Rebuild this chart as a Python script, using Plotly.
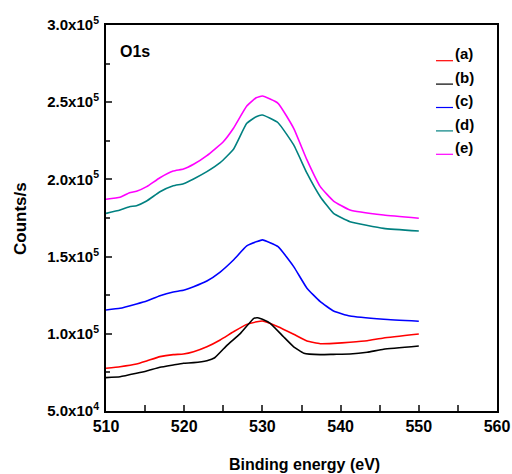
import plotly.graph_objects as go

x_e = [510, 511.8, 513, 513.9, 515.2, 516.9, 518.6, 519.9, 521.2, 522.9, 525, 526.3, 528, 529.2, 530, 532, 534, 535.7, 537.4, 539.1, 541.2, 545.5, 550]
y_e = [1.871, 1.884, 1.914, 1.923, 1.953, 2.011, 2.054, 2.067, 2.098, 2.154, 2.244, 2.331, 2.475, 2.529, 2.540, 2.493, 2.331, 2.126, 1.953, 1.860, 1.802, 1.769, 1.748]

x_d = [510, 511.8, 513, 513.9, 515.2, 516.9, 518.6, 519.9, 521.2, 522.9, 524.6, 526.3, 528, 529.2, 530, 532, 534, 535.7, 537.4, 539.1, 541.2, 545.5, 550]
y_d = [1.780, 1.802, 1.823, 1.830, 1.860, 1.920, 1.959, 1.972, 2.003, 2.050, 2.108, 2.195, 2.363, 2.406, 2.417, 2.367, 2.223, 2.040, 1.888, 1.780, 1.726, 1.683, 1.666]

x_c = [510, 511.8, 513.9, 515.2, 516.9, 518.6, 519.9, 521.2, 522.9, 524.6, 526.3, 528, 529.3, 530, 532, 534, 535.7, 537.4, 539.1, 541.2, 545.5, 550]
y_c = [1.154, 1.165, 1.193, 1.212, 1.247, 1.271, 1.282, 1.305, 1.342, 1.400, 1.478, 1.569, 1.597, 1.608, 1.564, 1.435, 1.295, 1.208, 1.148, 1.115, 1.094, 1.081]

x_a = [510, 511.8, 513.9, 515.2, 516.9, 518.6, 519.9, 521.2, 522.9, 524.6, 526.3, 528, 529.3, 530, 532, 534, 535.7, 537.4, 539.1, 541.2, 543.4, 545.5, 550]
y_a = [0.777, 0.787, 0.804, 0.824, 0.852, 0.865, 0.869, 0.884, 0.916, 0.960, 1.013, 1.061, 1.078, 1.083, 1.046, 0.997, 0.953, 0.936, 0.938, 0.945, 0.955, 0.973, 0.999]

x_b = [510, 511.8, 513.9, 515.2, 516.9, 518.6, 519.9, 521.2, 522.9, 523.9, 525.5, 527.2, 528.9, 529.4, 530, 531, 532.7, 534, 535.3, 537.4, 539.1, 541.2, 543.4, 545.5, 550]
y_b = [0.716, 0.722, 0.744, 0.759, 0.783, 0.798, 0.809, 0.813, 0.826, 0.845, 0.927, 1.003, 1.100, 1.104, 1.094, 1.068, 0.981, 0.916, 0.874, 0.865, 0.867, 0.869, 0.880, 0.900, 0.921]

series = [
    ("(a)", x_a, y_a, "#ff0000"),
    ("(b)", x_b, y_b, "#000000"),
    ("(c)", x_c, y_c, "#0000ff"),
    ("(d)", x_d, y_d, "#008080"),
    ("(e)", x_e, y_e, "#ff00ff"),
]

x_tickvals = [510, 520, 530, 540, 550, 560]
y_tickvals = [50000, 100000, 150000, 200000, 250000, 300000]
y_ticktext = ["5.0x10<sup>4</sup>", "1.0x10<sup>5</sup>", "1.5x10<sup>5</sup>",
              "2.0x10<sup>5</sup>", "2.5x10<sup>5</sup>", "3.0x10<sup>5</sup>"]

FONT = "Liberation Sans, Arial"
L, R, T, B = 106, 497, 25, 411
PW, PH = R - L, B - T

fig = go.Figure()
for name, xs, ys, col in series:
    fig.add_trace(go.Scatter(
        x=xs, y=[v * 1e5 for v in ys], mode="lines", name=name, showlegend=False,
        line=dict(color=col, width=1.6, shape="spline", smoothing=0.4),
    ))

annotations = [
    dict(text="<b>O1s</b>", x=(118 - L) / PW, y=(B - 51) / PH, xref="paper", yref="paper",
         xanchor="left", yanchor="middle", showarrow=False,
         font=dict(family=FONT, size=16)),
    dict(text="<b>Counts/s</b>", x=(20 - L) / PW, y=(B - 219) / PH, xref="paper", yref="paper",
         xanchor="center", yanchor="middle",
         showarrow=False, textangle=-90, font=dict(family=FONT, size=17)),
    dict(text="<b>Binding energy (eV)</b>", x=(304 - L) / PW, y=-(464 - B) / PH, xref="paper", yref="paper",
         xanchor="center", yanchor="middle", showarrow=False,
         font=dict(family=FONT, size=16)),
]

shapes = []
for i, (name, xs, ys, col) in enumerate(series):
    ly = (B - (60.7 + 23.4 * i)) / PH
    ty = (B - (53.5 + 23.6 * i)) / PH
    shapes.append(dict(type="line", xref="paper", yref="paper",
                       x0=(436 - L) / PW, x1=(453 - L) / PW, y0=ly, y1=ly,
                       line=dict(color=col, width=1.2)))
    annotations.append(dict(text="<b>" + name + "</b>", x=(453 - L) / PW, y=ty,
                            xref="paper", yref="paper", xanchor="left", yanchor="middle",
                            showarrow=False, font=dict(family=FONT, size=15)))

fig.update_layout(
    width=512, height=474,
    margin=dict(l=L, r=512 - R, t=T, b=474 - B, autoexpand=False),
    paper_bgcolor="white", plot_bgcolor="white",
    font=dict(family=FONT, color="black", size=16),
    showlegend=False,
    annotations=annotations,
    shapes=shapes,
)

fig.update_xaxes(
    range=[510, 560], tickvals=x_tickvals, automargin=False,
    ticks="inside", ticklen=6, tickwidth=1.5, showgrid=False, zeroline=False,
    showline=True, linecolor="black", linewidth=2, mirror=True,
    minor=dict(ticks="inside", ticklen=6, tickwidth=1.5, dtick=5, tick0=510, showgrid=False),
    tickfont=dict(family=FONT, size=16, weight="bold"),
)
fig.update_yaxes(
    range=[50000, 300000], tickvals=y_tickvals, ticktext=y_ticktext, automargin=False,
    ticks="inside", ticklen=6, tickwidth=1.5, showgrid=False, zeroline=False,
    showline=True, linecolor="black", linewidth=2, mirror=True,
    minor=dict(ticks="inside", ticklen=4, tickwidth=1.5, dtick=25000, tick0=50000, showgrid=False),
    tickfont=dict(family=FONT, size=15, weight="bold"),
    ticklabelstandoff=2,
)

fig.write_html("out.html")
